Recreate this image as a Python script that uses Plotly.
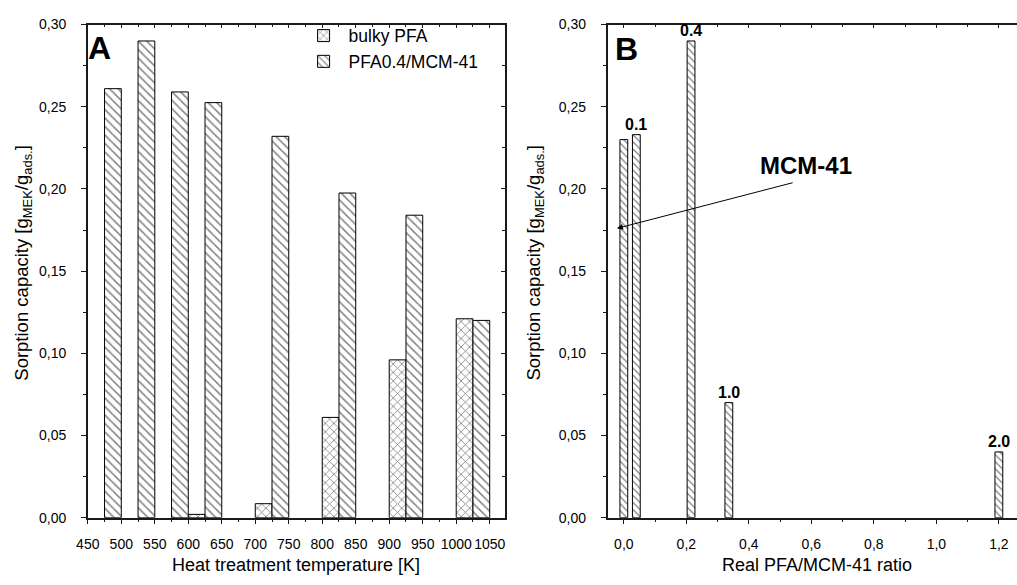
import plotly.graph_objects as go

# ---- Panel A: sorption capacity vs. heat treatment temperature ----
bulky_temp = [600, 700, 800, 900, 1000]
bulky_cap = [0.002, 0.0085, 0.061, 0.096, 0.121]

comp_temp = [450, 500, 550, 600, 700, 800, 900, 1000]
comp_cap = [0.261, 0.290, 0.259, 0.2525, 0.232, 0.1975, 0.184, 0.120]

# ---- Panel B: sorption capacity vs. real PFA/MCM-41 ratio ----
ratio_real = [0.0, 0.04, 0.215, 0.336, 1.20]
ratio_cap = [0.230, 0.233, 0.290, 0.070, 0.040]
ratio_nominal = ["", "0.1", "0.4", "1.0", "2.0"]

W, H = 1017, 585
FONT = "Liberation Sans, Arial, sans-serif"
LINE = "#1a1a1a"


def px_x(p):
    return p / W


def px_y(p):
    return (H - p) / H


dom_y = [px_y(524), px_y(17)]
dom_xa = [px_x(76.7), px_x(499)]
dom_xb = [px_x(602.7), 1.0]
range_xa = [450, 1073]
range_xb = [-0.052, 1.258]
range_y = [0, 0.30]

fig = go.Figure()

fig.add_trace(go.Bar(
    x=bulky_temp, y=bulky_cap, name="bulky PFA",
    offset=0, width=25,
    marker=dict(color="white", line=dict(color="black", width=1),
                pattern=dict(shape="x", fgcolor="black", bgcolor="white",
                             size=6, solidity=0.25)),
    xaxis="x", yaxis="y",
))
fig.add_trace(go.Bar(
    x=comp_temp, y=comp_cap, name="PFA0.4/MCM-41",
    offset=25, width=25,
    marker=dict(color="white", line=dict(color="black", width=1),
                pattern=dict(shape="\\", fgcolor="black", bgcolor="white",
                             size=6, solidity=0.25)),
    xaxis="x", yaxis="y",
))
fig.add_trace(go.Bar(
    x=ratio_real, y=ratio_cap, name="ratio", showlegend=False,
    width=0.025,
    marker=dict(color="white", line=dict(color="black", width=1),
                pattern=dict(shape="\\", fgcolor="black", bgcolor="white",
                             size=5, solidity=0.25)),
    xaxis="x2", yaxis="y2",
))

# empty traces so the frame axes (top / right) get drawn
for xa, ya in (("x3", "y3"), ("x4", "y2")):
    fig.add_trace(go.Scatter(x=[], y=[], xaxis=xa, yaxis=ya,
                             showlegend=False, hoverinfo="skip"))

tickfont = dict(family=FONT, size=14, color="black")


def base_axis(**kw):
    d = dict(showline=True, linecolor=LINE, linewidth=1.5, showgrid=False,
             zeroline=False, tickcolor=LINE, tickwidth=1.2, ticklen=5,
             tickfont=tickfont)
    d.update(kw)
    return d


fig.update_layout(
    width=W, height=H,
    margin=dict(l=0, r=0, t=0, b=0),
    paper_bgcolor="white", plot_bgcolor="white",
    separators=", ",
    barmode="overlay",
    showlegend=True,
    legend=dict(x=px_x(290), y=px_y(10), xanchor="left", yanchor="top",
                font=dict(family=FONT, size=17.5, color="black"),
                bgcolor="rgba(0,0,0,0)", itemwidth=40, tracegroupgap=0),
    xaxis=base_axis(domain=dom_xa, range=range_xa, anchor="y",
                    ticks="outside", tick0=450, dtick=50,
                    ticklabelstandoff=8,
                    minor=dict(dtick=25, ticks="outside", ticklen=3,
                               tickcolor=LINE)),
    yaxis=base_axis(domain=dom_y, range=range_y, anchor="x",
                    ticks="outside", dtick=0.05, tickformat=".2f",
                    ticklabelstandoff=12,
                    minor=dict(dtick=0.025, ticks="outside", ticklen=3,
                               tickcolor=LINE)),
    xaxis3=base_axis(overlaying="x", side="top", anchor="y",
                     range=range_xa, ticks="inside", tick0=450, dtick=50,
                     showticklabels=False, ticklen=4,
                     minor=dict(dtick=25, ticks="inside", ticklen=3,
                                tickcolor=LINE)),
    yaxis3=base_axis(overlaying="y", side="right", anchor="x",
                     range=range_y, ticks="inside", dtick=0.05,
                     showticklabels=False, ticklen=4,
                     minor=dict(dtick=0.025, ticks="inside", ticklen=3,
                                tickcolor=LINE)),
    xaxis2=base_axis(domain=dom_xb, range=range_xb, anchor="y2",
                     ticks="outside", tick0=0, dtick=0.2, tickformat=".1f",
                     ticklabelstandoff=8,
                     minor=dict(dtick=0.1, ticks="outside", ticklen=3,
                                tickcolor=LINE)),
    yaxis2=base_axis(domain=dom_y, range=range_y, anchor="x2",
                     ticks="outside", dtick=0.05, tickformat=".2f",
                     ticklabelstandoff=12,
                     minor=dict(dtick=0.025, ticks="outside", ticklen=3,
                                tickcolor=LINE)),
    xaxis4=base_axis(overlaying="x2", side="top", anchor="y2",
                     range=range_xb, ticks="inside", tick0=0, dtick=0.2,
                     showticklabels=False, ticklen=4,
                     minor=dict(dtick=0.1, ticks="inside", ticklen=3,
                                tickcolor=LINE)),
)

ytitle = "Sorption capacity [g<sub>MEK</sub>/g<sub>ads.</sub>]"
title_font = dict(family=FONT, size=18, color="black")
ytitle_font = dict(family=FONT, size=18.5, color="black")

annotations = [
    dict(text="Heat treatment temperature [K]", xref="paper", yref="paper",
         x=px_x(287), y=px_y(573), xanchor="center", yanchor="middle",
         showarrow=False, font=title_font),
    dict(text="Real PFA/MCM-41 ratio", xref="paper", yref="paper",
         x=px_x(815), y=px_y(573), xanchor="center", yanchor="middle",
         showarrow=False, font=title_font),
    dict(text=ytitle, xref="paper", yref="paper", textangle=-90,
         x=px_x(11), y=px_y(262), xanchor="center", yanchor="middle",
         showarrow=False, font=ytitle_font),
    dict(text=ytitle, xref="paper", yref="paper", textangle=-90,
         x=px_x(529), y=px_y(262), xanchor="center", yanchor="middle",
         showarrow=False, font=ytitle_font),
    dict(text="<b>A</b>", xref="paper", yref="paper",
         x=px_x(89), y=px_y(41), xanchor="center", yanchor="middle",
         showarrow=False, font=dict(family=FONT, size=32, color="black")),
    dict(text="<b>B</b>", xref="paper", yref="paper",
         x=px_x(622), y=px_y(42), xanchor="center", yanchor="middle",
         showarrow=False, font=dict(family=FONT, size=32, color="black")),
    dict(text="<b>MCM-41</b>", xref="paper", yref="paper",
         x=px_x(803), y=px_y(162), xanchor="center", yanchor="middle",
         showarrow=False, font=dict(family=FONT, size=24, color="black")),
    # arrow from the MCM-41 label to the pure MCM-41 bar
    dict(text="", xref="x2", yref="y2", axref="x2", ayref="y2",
         x=-0.022, y=0.176, ax=0.545, ay=0.204,
         showarrow=True, arrowhead=2, arrowsize=1.2, arrowwidth=1,
         arrowcolor="black"),
]

# nominal ratio labels above the composite bars
for xv, yv, lab in zip(ratio_real, ratio_cap, ratio_nominal):
    if lab:
        annotations.append(dict(
            text=f"<b>{lab}</b>", xref="x2", yref="y2", x=xv, y=yv,
            xanchor="center", yanchor="bottom", yshift=0, showarrow=False,
            font=dict(family=FONT, size=16, color="black")))

fig.update_layout(annotations=annotations)

fig.write_html("out.html")
